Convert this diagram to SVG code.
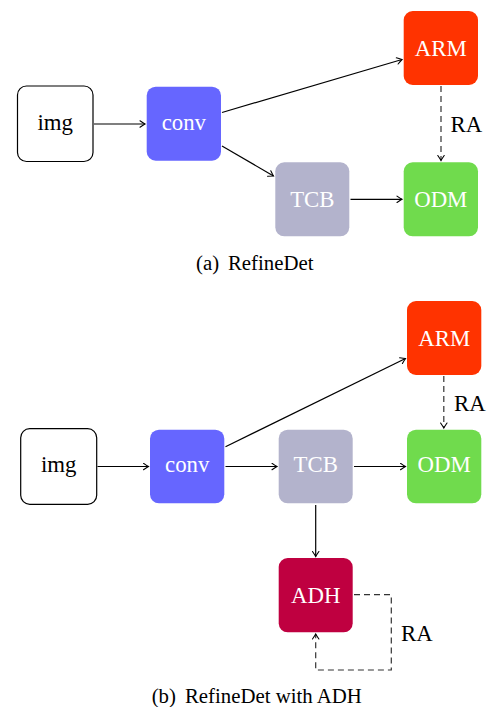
<svg xmlns="http://www.w3.org/2000/svg" width="488" height="707" viewBox="0 0 488 707">
<defs>
<marker id="ah" viewBox="-6 -4 8 8" markerWidth="8" markerHeight="8" refX="0" refY="0" orient="auto" markerUnits="userSpaceOnUse">
<path d="M-5,-3.2 Q-1.5,-0.8 0,0 Q-1.5,0.8 -5,3.2" fill="none" stroke="#000" stroke-width="1.1" stroke-linecap="round"/>
</marker>
</defs>
<style>
.t{font-family:"Liberation Serif","Times New Roman",serif;font-size:22.8px;text-anchor:middle}
.w{fill:#fff}
.k{fill:#000}
.s{text-anchor:start}
.c{fill:none;stroke:#000;stroke-width:1.2}
.d{fill:none;stroke:#333;stroke-width:1.2;stroke-dasharray:6,4}
.cap{font-family:"Liberation Serif","Times New Roman",serif;font-size:20.8px;text-anchor:start;fill:#000}
</style>
<rect width="488" height="707" fill="#fff"/>

<!-- Panel (a) -->
<g id="a_img"><rect x="17.5" y="86" width="75.5" height="75.5" rx="9" fill="#fff" stroke="#000" stroke-width="1.2"/><text class="t k" x="55.2" y="129.5">img</text></g>
<g id="a_conv"><rect x="146.7" y="86.7" width="74.3" height="74" rx="9" fill="#6666ff"/><text class="t w" x="183.8" y="129.5">conv</text></g>
<g id="a_arm"><rect x="403.7" y="11" width="74.3" height="74" rx="9" fill="#ff3300"/><text class="t w" x="440.8" y="56">ARM</text></g>
<g id="a_tcb"><rect x="275.3" y="162.3" width="74" height="74" rx="9" fill="#b3b3cc"/><text class="t w" x="312.3" y="207">TCB</text></g>
<g id="a_odm"><rect x="403.7" y="162.3" width="74.3" height="74" rx="9" fill="#70db4d"/><text class="t w" x="440.8" y="207">ODM</text></g>
<g id="a_conn">
<line class="c" x1="94" y1="124" x2="145" y2="124" marker-end="url(#ah)"/>
<line class="c" x1="222" y1="112.5" x2="402" y2="59.5" marker-end="url(#ah)"/>
<line class="c" x1="222" y1="146" x2="273.5" y2="176" marker-end="url(#ah)"/>
<line class="c" x1="350.5" y1="199.3" x2="402" y2="199.3" marker-end="url(#ah)"/>
<line class="d" x1="441" y1="86" x2="441" y2="160.5" marker-end="url(#ah)"/>
<text class="t k s" x="450.5" y="131.5">RA</text>
</g>
<text class="cap" y="269.5"><tspan x="196">(a)</tspan><tspan x="228">RefineDet</tspan></text>

<!-- Panel (b) -->
<g id="b_img"><rect x="20.7" y="428.7" width="76" height="75.6" rx="9" fill="#fff" stroke="#000" stroke-width="1.2"/><text class="t k" x="58.7" y="472">img</text></g>
<g id="b_conv"><rect x="150" y="429.7" width="74.3" height="73.6" rx="9" fill="#6666ff"/><text class="t w" x="187.2" y="472">conv</text></g>
<g id="b_arm"><rect x="407" y="301" width="74.3" height="74" rx="9" fill="#ff3300"/><text class="t w" x="444.2" y="346">ARM</text></g>
<g id="b_tcb"><rect x="278.7" y="429.7" width="74" height="73.6" rx="9" fill="#b3b3cc"/><text class="t w" x="315.7" y="472">TCB</text></g>
<g id="b_odm"><rect x="407" y="429.7" width="74.3" height="73.6" rx="9" fill="#70db4d"/><text class="t w" x="444.2" y="472">ODM</text></g>
<g id="b_adh"><rect x="278.7" y="558" width="74" height="74.3" rx="9" fill="#bf0040"/><text class="t w" x="315.7" y="603">ADH</text></g>
<g id="b_conn">
<line class="c" x1="97.5" y1="466.5" x2="148.5" y2="466.5" marker-end="url(#ah)"/>
<line class="c" x1="225.5" y1="446.7" x2="405.5" y2="358.5" marker-end="url(#ah)"/>
<line class="c" x1="225.5" y1="466.5" x2="277" y2="466.5" marker-end="url(#ah)"/>
<line class="c" x1="354" y1="466.5" x2="405.5" y2="466.5" marker-end="url(#ah)"/>
<line class="c" x1="315.7" y1="505" x2="315.7" y2="556.5" marker-end="url(#ah)"/>
<line class="d" x1="443.8" y1="376" x2="443.8" y2="428" marker-end="url(#ah)"/>
<polyline class="d" points="354,594.7 391.3,594.7 391.3,670 315.7,670 315.7,634" marker-end="url(#ah)"/>
<text class="t k s" x="454" y="410.5">RA</text>
<text class="t k s" x="401" y="641">RA</text>
</g>
<text class="cap" y="703"><tspan x="151.7">(b)</tspan><tspan x="185">RefineDet with ADH</tspan></text>
</svg>
